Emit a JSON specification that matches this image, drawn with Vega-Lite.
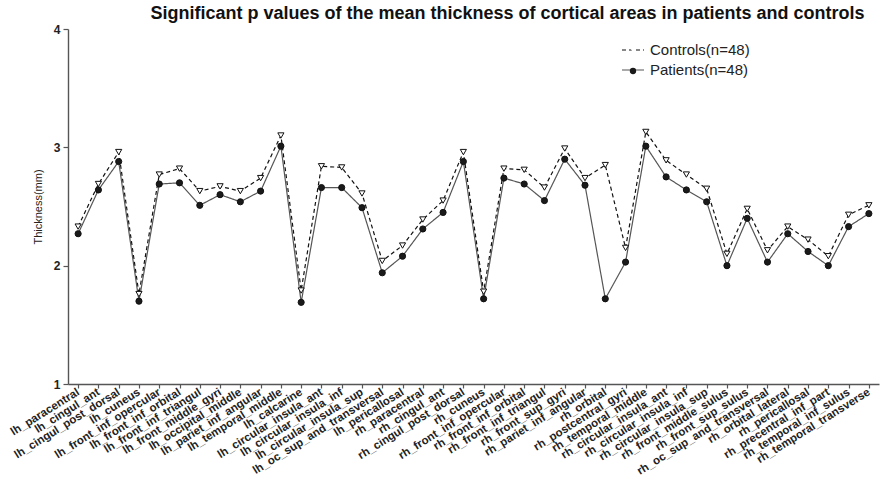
{
  "$schema": "https://vega.github.io/schema/vega-lite/v6.json",
  "width": 811,
  "height": 355,
  "autosize": {"type": "none"},
  "padding": {"left": 68, "top": 29, "right": 12, "bottom": 102},
  "title": {
    "text": "Significant p values of the mean thickness of cortical areas in patients and controls",
    "font": "Liberation Sans",
    "fontSize": 18,
    "fontWeight": "bold",
    "color": "#111",
    "anchor": "middle",
    "dx": 34,
    "offset": 0
  },
  "config": {
    "view": {"stroke": null},
    "font": "Liberation Sans",
    "axis": {"grid": false}
  },
  "data": {
    "values": [
      {"region": "lh_paracentral", "group": "Controls(n=48)", "thickness": 2.33},
      {"region": "lh_cingul_ant", "group": "Controls(n=48)", "thickness": 2.69},
      {"region": "lh_cingul_post_dorsal", "group": "Controls(n=48)", "thickness": 2.96},
      {"region": "lh_cuneus", "group": "Controls(n=48)", "thickness": 1.76},
      {"region": "lh_front_inf_opercular", "group": "Controls(n=48)", "thickness": 2.77},
      {"region": "lh_front_inf_orbital", "group": "Controls(n=48)", "thickness": 2.82},
      {"region": "lh_front_inf_triangul", "group": "Controls(n=48)", "thickness": 2.63},
      {"region": "lh_front_middle_gyri", "group": "Controls(n=48)", "thickness": 2.67},
      {"region": "lh_occipital_middle", "group": "Controls(n=48)", "thickness": 2.63},
      {"region": "lh_pariet_inf_angular", "group": "Controls(n=48)", "thickness": 2.74},
      {"region": "lh_temporal_middle", "group": "Controls(n=48)", "thickness": 3.10},
      {"region": "lh_calcarine", "group": "Controls(n=48)", "thickness": 1.79},
      {"region": "lh_circular_insula_ant", "group": "Controls(n=48)", "thickness": 2.84},
      {"region": "lh_circular_insula_inf", "group": "Controls(n=48)", "thickness": 2.83},
      {"region": "lh_circular_insula_sup", "group": "Controls(n=48)", "thickness": 2.61},
      {"region": "lh_oc_sup_and_transversal", "group": "Controls(n=48)", "thickness": 2.04},
      {"region": "lh_pericallosal", "group": "Controls(n=48)", "thickness": 2.17},
      {"region": "rh_paracentral", "group": "Controls(n=48)", "thickness": 2.39},
      {"region": "rh_cingul_ant", "group": "Controls(n=48)", "thickness": 2.55},
      {"region": "rh_cingul_post_dorsal", "group": "Controls(n=48)", "thickness": 2.96},
      {"region": "rh_cuneus", "group": "Controls(n=48)", "thickness": 1.78},
      {"region": "rh_front_inf_opercular", "group": "Controls(n=48)", "thickness": 2.82},
      {"region": "rh_front_inf_orbital", "group": "Controls(n=48)", "thickness": 2.81},
      {"region": "rh_front_inf_triangul", "group": "Controls(n=48)", "thickness": 2.66},
      {"region": "rh_front_sup_gyri", "group": "Controls(n=48)", "thickness": 2.99},
      {"region": "rh_pariet_inf_angular", "group": "Controls(n=48)", "thickness": 2.74},
      {"region": "rh_orbital", "group": "Controls(n=48)", "thickness": 2.85},
      {"region": "rh_postcentral_gyri", "group": "Controls(n=48)", "thickness": 2.15},
      {"region": "rh_temporal_middle", "group": "Controls(n=48)", "thickness": 3.13},
      {"region": "rh_circular_insula_ant", "group": "Controls(n=48)", "thickness": 2.89},
      {"region": "rh_circular_insula_inf", "group": "Controls(n=48)", "thickness": 2.77},
      {"region": "rh_circular_insula_sup", "group": "Controls(n=48)", "thickness": 2.65},
      {"region": "rh_front_middle_sulus", "group": "Controls(n=48)", "thickness": 2.10},
      {"region": "rh_front_sup_sulus", "group": "Controls(n=48)", "thickness": 2.48},
      {"region": "rh_oc_sup_and_transversal", "group": "Controls(n=48)", "thickness": 2.13},
      {"region": "rh_orbital_lateral", "group": "Controls(n=48)", "thickness": 2.33},
      {"region": "rh_pericallosal", "group": "Controls(n=48)", "thickness": 2.22},
      {"region": "rh_precentral_inf_part", "group": "Controls(n=48)", "thickness": 2.08},
      {"region": "rh_temporal_inf_sulus", "group": "Controls(n=48)", "thickness": 2.43},
      {"region": "rh_temporal_transverse", "group": "Controls(n=48)", "thickness": 2.51},
      {"region": "lh_paracentral", "group": "Patients(n=48)", "thickness": 2.27},
      {"region": "lh_cingul_ant", "group": "Patients(n=48)", "thickness": 2.64},
      {"region": "lh_cingul_post_dorsal", "group": "Patients(n=48)", "thickness": 2.88},
      {"region": "lh_cuneus", "group": "Patients(n=48)", "thickness": 1.70},
      {"region": "lh_front_inf_opercular", "group": "Patients(n=48)", "thickness": 2.69},
      {"region": "lh_front_inf_orbital", "group": "Patients(n=48)", "thickness": 2.70},
      {"region": "lh_front_inf_triangul", "group": "Patients(n=48)", "thickness": 2.51},
      {"region": "lh_front_middle_gyri", "group": "Patients(n=48)", "thickness": 2.60},
      {"region": "lh_occipital_middle", "group": "Patients(n=48)", "thickness": 2.54},
      {"region": "lh_pariet_inf_angular", "group": "Patients(n=48)", "thickness": 2.63},
      {"region": "lh_temporal_middle", "group": "Patients(n=48)", "thickness": 3.01},
      {"region": "lh_calcarine", "group": "Patients(n=48)", "thickness": 1.69},
      {"region": "lh_circular_insula_ant", "group": "Patients(n=48)", "thickness": 2.66},
      {"region": "lh_circular_insula_inf", "group": "Patients(n=48)", "thickness": 2.66},
      {"region": "lh_circular_insula_sup", "group": "Patients(n=48)", "thickness": 2.49},
      {"region": "lh_oc_sup_and_transversal", "group": "Patients(n=48)", "thickness": 1.94},
      {"region": "lh_pericallosal", "group": "Patients(n=48)", "thickness": 2.08},
      {"region": "rh_paracentral", "group": "Patients(n=48)", "thickness": 2.31},
      {"region": "rh_cingul_ant", "group": "Patients(n=48)", "thickness": 2.45},
      {"region": "rh_cingul_post_dorsal", "group": "Patients(n=48)", "thickness": 2.88},
      {"region": "rh_cuneus", "group": "Patients(n=48)", "thickness": 1.72},
      {"region": "rh_front_inf_opercular", "group": "Patients(n=48)", "thickness": 2.74},
      {"region": "rh_front_inf_orbital", "group": "Patients(n=48)", "thickness": 2.69},
      {"region": "rh_front_inf_triangul", "group": "Patients(n=48)", "thickness": 2.55},
      {"region": "rh_front_sup_gyri", "group": "Patients(n=48)", "thickness": 2.90},
      {"region": "rh_pariet_inf_angular", "group": "Patients(n=48)", "thickness": 2.68},
      {"region": "rh_orbital", "group": "Patients(n=48)", "thickness": 1.72},
      {"region": "rh_postcentral_gyri", "group": "Patients(n=48)", "thickness": 2.03},
      {"region": "rh_temporal_middle", "group": "Patients(n=48)", "thickness": 3.01},
      {"region": "rh_circular_insula_ant", "group": "Patients(n=48)", "thickness": 2.75},
      {"region": "rh_circular_insula_inf", "group": "Patients(n=48)", "thickness": 2.64},
      {"region": "rh_circular_insula_sup", "group": "Patients(n=48)", "thickness": 2.54},
      {"region": "rh_front_middle_sulus", "group": "Patients(n=48)", "thickness": 2.00},
      {"region": "rh_front_sup_sulus", "group": "Patients(n=48)", "thickness": 2.40},
      {"region": "rh_oc_sup_and_transversal", "group": "Patients(n=48)", "thickness": 2.03},
      {"region": "rh_orbital_lateral", "group": "Patients(n=48)", "thickness": 2.27},
      {"region": "rh_pericallosal", "group": "Patients(n=48)", "thickness": 2.12},
      {"region": "rh_precentral_inf_part", "group": "Patients(n=48)", "thickness": 2.00},
      {"region": "rh_temporal_inf_sulus", "group": "Patients(n=48)", "thickness": 2.33},
      {"region": "rh_temporal_transverse", "group": "Patients(n=48)", "thickness": 2.44}
    ]
  },
  "encoding": {
    "x": {
      "field": "region",
      "type": "nominal",
      "sort": null,
      "scale": {"type": "point", "padding": 0.5},
      "axis": {
        "title": null,
        "labelAngle": -32,
        "labelAlign": "right",
        "labelBaseline": "middle",
        "labelFontSize": 11.5,
        "labelFontWeight": "bold",
        "labelColor": "#222",
        "labelPadding": 3,
        "labelOverlap": false,
        "labelLimit": 0,
        "tickSize": 4,
        "tickWidth": 1.2,
        "tickColor": "#555",
        "domainColor": "#555",
        "domainWidth": 1.4
      }
    },
    "y": {
      "field": "thickness",
      "type": "quantitative",
      "scale": {"domain": [1, 4], "nice": false, "zero": false},
      "axis": {
        "values": [1, 2, 3, 4],
        "format": "d",
        "title": "Thickness(mm)",
        "titleFontSize": 11,
        "titleFontWeight": "normal",
        "titleColor": "#222",
        "titlePadding": 10,
        "labelFontSize": 12,
        "labelFontWeight": "bold",
        "labelColor": "#222",
        "labelPadding": 3,
        "labelFlush": false,
        "tickSize": 5,
        "tickWidth": 1.2,
        "tickColor": "#555",
        "domainColor": "#555",
        "domainWidth": 1.4
      }
    }
  },
  "layer": [
    {
      "mark": {"type": "line", "strokeWidth": 1.2},
      "encoding": {
        "strokeDash": {
          "field": "group",
          "type": "nominal",
          "scale": {"range": [[4, 3], [1, 0]]},
          "legend": {
            "orient": "none", "legendX": 553, "legendY": 9, "title": null,
            "symbolType": "stroke", "symbolSize": 484, "symbolStrokeWidth": 1.2,
            "labelFont": "Liberation Sans", "labelFontSize": 15, "labelColor": "#222",
            "labelOffset": 5, "rowPadding": -6
          }
        },
        "color": {
          "field": "group",
          "type": "nominal",
          "scale": {"range": ["#111111", "#555555"]},
          "legend": {
            "orient": "none", "legendX": 553, "legendY": 9, "title": null,
            "symbolType": "stroke", "symbolSize": 484, "symbolStrokeWidth": 1.2,
            "labelFont": "Liberation Sans", "labelFontSize": 15, "labelColor": "#222",
            "labelOffset": 5, "rowPadding": -6
          }
        }
      }
    },
    {
      "mark": {"type": "point", "filled": true, "stroke": "#111", "strokeWidth": 1, "size": 38, "opacity": 1},
      "encoding": {
        "shape": {
          "field": "group",
          "type": "nominal",
          "scale": {"domain": ["Controls(n=48)", "Patients(n=48)"], "range": ["triangle-down", "circle"]},
          "legend": {
            "orient": "none", "legendX": 561, "legendY": 17, "title": null,
            "symbolSize": 40, "symbolStrokeWidth": 1, "symbolStrokeColor": "#111",
            "labelFontSize": 1, "labelOpacity": 0, "labelOffset": -6, "rowPadding": 10
          }
        },
        "fill": {
          "field": "group",
          "type": "nominal",
          "scale": {"domain": ["Controls(n=48)", "Patients(n=48)"], "range": ["#ffffff", "#1a1a1a"]},
          "legend": {
            "orient": "none", "legendX": 561, "legendY": 17, "title": null,
            "symbolSize": 40, "symbolStrokeWidth": 1, "symbolStrokeColor": "#111",
            "labelFontSize": 1, "labelOpacity": 0, "labelOffset": -6, "rowPadding": 10
          }
        }
      }
    }
  ]
}
